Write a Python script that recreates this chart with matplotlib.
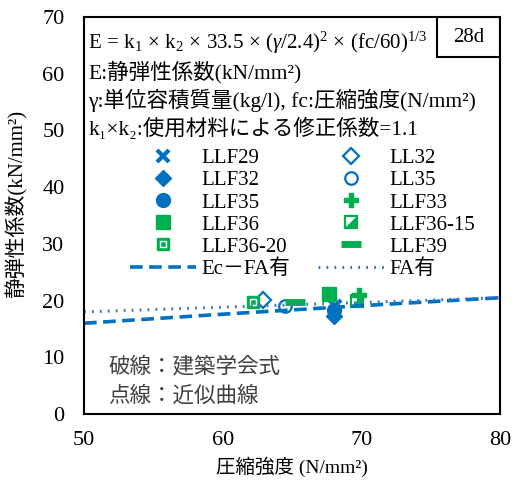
import numpy as np
import matplotlib
matplotlib.use('Agg')
import matplotlib.pyplot as plt
from matplotlib.patches import Rectangle

plt.rcParams['font.family'] = ['Liberation Serif', 'Noto Sans CJK JP', 'DejaVu Serif']
plt.rcParams['mathtext.fontset'] = 'custom'
plt.rcParams['mathtext.rm'] = 'Liberation Serif'
plt.rcParams['mathtext.it'] = 'Liberation Serif:italic'

BLUE = '#0070C0'; GREEN = '#00B050'; DOT = '#4472C4'

# compressive strength (N/mm2) and Young's modulus (kN/mm2)
llf29_x = [68.1];  llf29_y = [19.0]
ll32_x = [62.9];   ll32_y = [20.1]
llf32_x = [68.0];  llf32_y = [17.3]
ll35_x = [64.5];   ll35_y = [19.0]
llf35_x = [68.0];  llf35_y = [18.3]
llf33_x = [69.8];  llf33_y = [21.0]
llf36_x = [67.7];  llf36_y = [21.1]
llf3615_x = [69.7]; llf3615_y = [20.0]
llf3620_x = [62.2]; llf3620_y = [19.7]
llf39_x = [65.2];  llf39_y = [19.7]

# lines
ec_x = [50, 60, 70, 80];  ec_y = [16.0, 17.6, 19.1, 20.5]
fit_x = [50, 80];         fit_y = [18.0, 20.5]

fig = plt.figure(figsize=(5.14, 4.93), dpi=100)
ax = fig.add_axes([84/514, 1 - 414/493, 416/514, 397/493])

ms = 9
h = {}
h['LLF29'], = ax.plot(llf29_x, llf29_y, 'x', color=BLUE, ms=ms, mew=3, ls='none')
h['LLF32'], = ax.plot(llf32_x, llf32_y, 'D', color=BLUE, ms=ms - 1, ls='none')
h['LLF35'], = ax.plot(llf35_x, llf35_y, 'o', color=BLUE, ms=ms + 1, ls='none')
h['LL32'], = ax.plot(ll32_x, ll32_y, 'D', mfc='white', mec=BLUE, mew=1.6, ms=ms - 1, ls='none')
h['LL35'], = ax.plot(ll35_x, ll35_y, 'o', mfc='white', mec=BLUE, mew=1.6, ms=ms, ls='none')
h['LLF36'], = ax.plot(llf36_x, llf36_y, 's', color=GREEN, ms=ms + 1, ls='none')
sq15, = ax.plot(llf3615_x, llf3615_y, 's', mfc='white', mec=GREEN, mew=1.6, ms=ms, ls='none')
tri15, = ax.plot(llf3615_x, llf3615_y, marker=[(1, -1), (1, 1), (-1, -1)], color=GREEN, ms=ms - 2, ls='none')
h['LLF36-15'] = (sq15, tri15)
sq20, = ax.plot(llf3620_x, llf3620_y, 's', color=GREEN, ms=ms, ls='none')
pt20, = ax.plot(llf3620_x, llf3620_y, 's', mfc='none', mec='white', mew=1.0, ms=ms - 4, ls='none')
h['LLF36-20'] = (sq20, pt20)
h['LLF39'], = ax.plot(llf39_x, llf39_y, '_', color=GREEN, ms=15, mew=5, ls='none')
h['LLF33'], = ax.plot(llf33_x, llf33_y, 'P', color=GREEN, ms=ms + 1, ls='none')

h['Ec－FA有'], = ax.plot(ec_x, ec_y, '--', color=BLUE, lw=2.6, dashes=(3.5, 1.8))
h['FA有'], = ax.plot(fit_x, fit_y, ':', color=DOT, lw=2.2, dashes=(0.6, 2.0))

ax.set_xlim(50, 80); ax.set_ylim(0, 70)
ax.set_xticks([50, 60, 70, 80]); ax.set_yticks(np.arange(0, 71, 10))
ax.tick_params(length=0, labelsize=16)
ax.tick_params(axis='x', pad=12)
ax.tick_params(axis='y', pad=14)
for s in ax.spines.values():
    s.set_linewidth(1.5)
ax.set_xlabel('圧縮強度 (N/mm²)', fontsize=14, labelpad=5)
ax.set_ylabel('静弾性係数(kN/mm²)', fontsize=15, labelpad=4)
ax.yaxis.set_label_coords(-0.135, 0.53)

col1 = ['LLF29', 'LLF32', 'LLF35', 'LLF36', 'LLF36-20', 'Ec－FA有']
col2 = ['LL32', 'LL35', 'LLF33', 'LLF36-15', 'LLF39', 'FA有']
labels = col1 + col2
ax.legend([h[k] for k in labels], labels, ncol=2, frameon=False, fontsize=15,
          loc='upper left', bbox_to_anchor=(0.11, 0.668), borderpad=0, borderaxespad=0,
          handlelength=3.2, handletextpad=0.25, columnspacing=1.3, labelspacing=0.12)

# formula box
txt = [r'E$\,=\,$k$_1$$\,\times\,$k$_2$$\,\times\,$33.5$\,\times\,$($\gamma$/2.4)$^2$$\,\times\,$(fc/60)$^{1/3}$',
       'E:静弾性係数(kN/mm²)',
       'γ:単位容積質量(kg/l), fc:圧縮強度(N/mm²)',
       'k₁×k₂:使用材料による修正係数=1.1']
ty = [0.935, 0.861, 0.789, 0.718]
fs = [15, 15.5, 15.5, 15.5]
for t, y, f in zip(txt, ty, fs):
    ax.text(0.01, y, t, transform=ax.transAxes, fontsize=f, va='center', ha='left')

ax.add_patch(Rectangle((0.849, 0.898), 0.151, 0.102, transform=ax.transAxes,
                       fill=False, lw=1.5, ec='black'))
ax.text(0.9245, 0.949, '28d', transform=ax.transAxes, fontsize=15, ha='center', va='center')

ax.text(0.058, 0.121, '破線：建築学会式', transform=ax.transAxes, fontsize=15.5,
        family='Noto Sans CJK JP', va='center', color='#404040')
ax.text(0.058, 0.046, '点線：近似曲線', transform=ax.transAxes, fontsize=15.5,
        family='Noto Sans CJK JP', va='center', color='#404040')

fig.savefig('out.png', dpi=100)
